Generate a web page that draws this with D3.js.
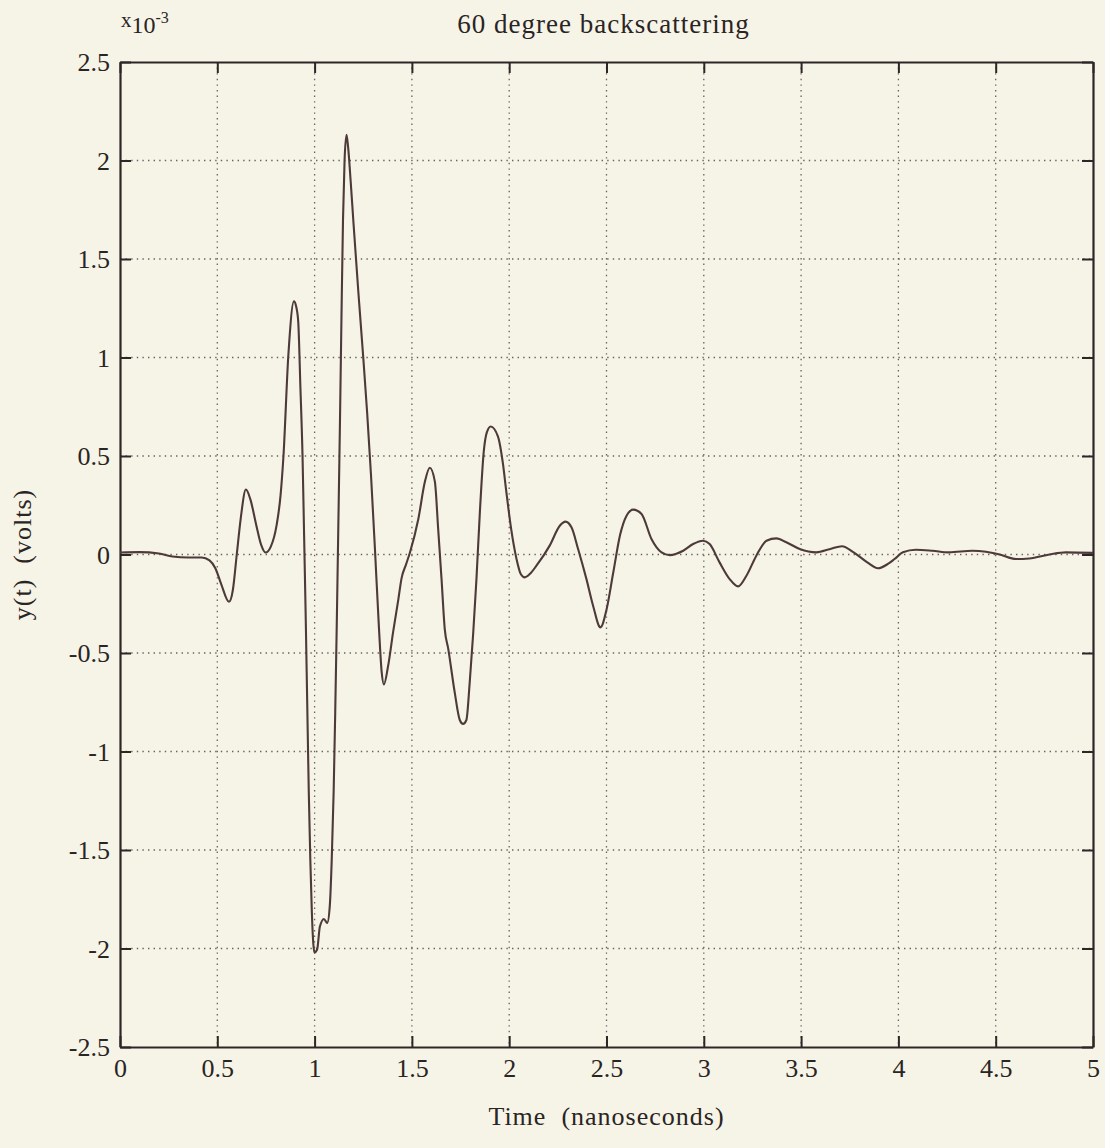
<!DOCTYPE html>
<html>
<head>
<meta charset="utf-8">
<script src="https://cdn.jsdelivr.net/npm/d3@7"></script>
<style>
  html, body { margin: 0; padding: 0; background: #f6f4e7; }
  svg { display: block; }
  text { font-family: "Liberation Serif", "DejaVu Serif", serif; fill: #2a2424; white-space: pre; }
</style>
</head>
<body>
<div id="chart"></div>
<script>
// ---- data (time in ns, amplitude in units of 1e-3 volts) ----
const timeNs = [
  0.00, 0.10, 0.20, 0.27, 0.35, 0.42, 0.46, 0.49, 0.52, 0.56, 0.58, 0.60, 0.62, 0.647, 0.67, 0.70,
  0.725, 0.748, 0.775, 0.805, 0.825, 0.84, 0.865, 0.894, 0.905, 0.916, 0.927, 0.938, 0.946, 0.954,
  0.962, 0.970, 0.978, 0.986, 0.993, 0.999, 1.013, 1.027, 1.048, 1.065, 1.078, 1.088, 1.098, 1.106,
  1.114, 1.122, 1.130, 1.138, 1.146, 1.154, 1.164, 1.172, 1.185, 1.20, 1.225, 1.25, 1.27, 1.29,
  1.31, 1.33, 1.345, 1.356, 1.377, 1.404, 1.43, 1.447, 1.47, 1.49, 1.533, 1.567, 1.592, 1.618,
  1.635, 1.652, 1.669, 1.687, 1.72, 1.746, 1.763, 1.78, 1.797, 1.815, 1.832, 1.849, 1.869, 1.885,
  1.905, 1.942, 1.968, 1.985, 2.01, 2.037, 2.06, 2.08, 2.11, 2.14, 2.208, 2.26, 2.289, 2.32,
  2.354, 2.397, 2.431, 2.469, 2.50, 2.535, 2.57, 2.603, 2.637, 2.68, 2.731, 2.783, 2.825, 2.894,
  2.945, 2.996, 3.03, 3.081, 3.133, 3.176, 3.219, 3.27, 3.322, 3.373, 3.424, 3.493, 3.578, 3.65,
  3.71, 3.77, 3.84, 3.895, 3.946, 3.98, 4.023, 4.09, 4.175, 4.26, 4.38, 4.45, 4.52, 4.605,
  4.673, 4.776, 4.86, 5.00
];
const voltsE3 = [
  0.010, 0.012, 0.005, -0.010, -0.015, -0.015, -0.030, -0.070, -0.150, -0.240, -0.180, 0.000, 0.180, 0.330, 0.280, 0.150,
  0.050, 0.010, 0.040, 0.150, 0.300, 0.500, 1.010, 1.285, 1.260, 1.180, 0.850, 0.500, 0.100, -0.300,
  -0.750, -1.200, -1.550, -1.820, -1.970, -2.020, -2.005, -1.890, -1.850, -1.870, -1.785, -1.550, -1.200, -0.800,
  -0.350, 0.150, 0.650, 1.200, 1.700, 2.000, 2.130, 2.070, 1.900, 1.680, 1.330, 1.000, 0.720, 0.400,
  0.030, -0.360, -0.600, -0.660, -0.570, -0.390, -0.230, -0.120, -0.050, 0.010, 0.180, 0.370, 0.440, 0.370,
  0.130, -0.120, -0.380, -0.480, -0.700, -0.840, -0.860, -0.840, -0.650, -0.400, -0.120, 0.210, 0.520, 0.620,
  0.650, 0.600, 0.460, 0.320, 0.130, -0.020, -0.100, -0.116, -0.095, -0.057, 0.045, 0.146, 0.167, 0.138,
  0.028, -0.125, -0.260, -0.370, -0.280, -0.090, 0.100, 0.197, 0.228, 0.206, 0.079, 0.011, -0.003, 0.019,
  0.053, 0.070, 0.053, -0.040, -0.125, -0.162, -0.108, -0.006, 0.070, 0.082, 0.062, 0.028, 0.011, 0.028,
  0.042, 0.011, -0.040, -0.070, -0.048, -0.023, 0.011, 0.024, 0.019, 0.011, 0.019, 0.014, 0.000, -0.023,
  -0.020, 0.000, 0.011, 0.008
];
const xTicks = [0, 0.5, 1, 1.5, 2, 2.5, 3, 3.5, 4, 4.5, 5];
const xTickLabels = ["0", "0.5", "1", "1.5", "2", "2.5", "3", "3.5", "4", "4.5", "5"];
const yTicks = [2.5, 2, 1.5, 1, 0.5, 0, -0.5, -1, -1.5, -2, -2.5];
const yTickLabels = ["2.5", "2", "1.5", "1", "0.5", "0", "-0.5", "-1", "-1.5", "-2", "-2.5"];
const titleText = "60 degree backscattering";
const xLabelText = "Time  (nanoseconds)";
const yLabelText = "y(t)  (volts)";

// ---- layout ----
const W = 1105, H = 1148;
const mLeft = 120, mRight = 1093, mTop = 62, mBottom = 1047;

const svg = d3.select("#chart").append("svg")
  .attr("width", W).attr("height", H);

svg.append("rect").attr("width", W).attr("height", H).attr("fill", "#f6f4e7");

const x = d3.scaleLinear().domain([0, 5]).range([mLeft, mRight]);
const y = d3.scaleLinear().domain([-2.5, 2.5]).range([mBottom, mTop]);

const inkGrid = "#6a6060";
const inkAxis = "#2e2626";

// grid (dotted)
const grid = svg.append("g");
grid.selectAll("line.vx").data(xTicks.slice(1, -1)).enter().append("line")
  .attr("x1", d => x(d)).attr("x2", d => x(d))
  .attr("y1", mTop).attr("y2", mBottom)
  .attr("stroke", inkGrid).attr("stroke-width", 1.3)
  .attr("stroke-dasharray", "1.4,4.2");
grid.selectAll("line.hy").data(yTicks.slice(1, -1)).enter().append("line")
  .attr("x1", mLeft).attr("x2", mRight)
  .attr("y1", d => y(d)).attr("y2", d => y(d))
  .attr("stroke", inkGrid).attr("stroke-width", 1.3)
  .attr("stroke-dasharray", "1.4,4.2");

// axes with inward ticks (via d3.axis)
const tickLen = 11;
const fmtX = d => xTickLabels[xTicks.indexOf(d)];
const fmtY = d => yTickLabels[yTicks.indexOf(d)];

const axB = svg.append("g").attr("transform", `translate(0,${mBottom})`)
  .call(d3.axisBottom(x).tickValues(xTicks).tickFormat(fmtX).tickSizeInner(-tickLen).tickSizeOuter(0).tickPadding(11));
const axT = svg.append("g").attr("transform", `translate(0,${mTop})`)
  .call(d3.axisTop(x).tickValues(xTicks).tickFormat("").tickSizeInner(-tickLen).tickSizeOuter(0));
const axL = svg.append("g").attr("transform", `translate(${mLeft},0)`)
  .call(d3.axisLeft(y).tickValues(yTicks).tickFormat(fmtY).tickSizeInner(-tickLen).tickSizeOuter(0).tickPadding(10));
const axR = svg.append("g").attr("transform", `translate(${mRight},0)`)
  .call(d3.axisRight(y).tickValues(yTicks).tickFormat("").tickSizeInner(-tickLen).tickSizeOuter(0));

[axB, axT, axL, axR].forEach(g => {
  g.select(".domain").attr("stroke", inkAxis).attr("stroke-width", 2.2);
  g.selectAll(".tick line").attr("stroke", inkAxis).attr("stroke-width", 2);
  g.selectAll(".tick text")
    .style("font-family", '"Liberation Serif", serif')
    .style("font-size", "26px")
    .attr("fill", "#2a2424");
});
axB.selectAll(".tick text").attr("dy", "0.72em");
axL.selectAll(".tick text").attr("dy", "0.33em");

// curve
const pts = timeNs.map((t, i) => [t, voltsE3[i]]);
const line = d3.line().x(d => x(d[0])).y(d => y(d[1])).curve(d3.curveMonotoneX);
svg.append("path").datum(pts)
  .attr("d", line)
  .attr("fill", "none")
  .attr("stroke", "#4d3a3a")
  .attr("stroke-width", 2.1)
  .attr("stroke-linejoin", "round");

// title
svg.append("text")
  .attr("x", (mLeft + mRight) / 2 - 3).attr("y", 33)
  .attr("text-anchor", "middle")
  .style("font-size", "27px").style("letter-spacing", "1px")
  .text(titleText);

// exponent label
const ex = svg.append("text").attr("x", 121).attr("y", 33).style("font-size", "24px");
ex.append("tspan").attr("dy", -6).style("font-size", "21px").text("x");
ex.append("tspan").attr("dy", 6).text("10");
ex.append("tspan").attr("dy", -10).style("font-size", "16px").text("-3");

// axis labels
svg.append("text")
  .attr("x", (mLeft + mRight) / 2).attr("y", 1125)
  .attr("text-anchor", "middle")
  .style("font-size", "26px").style("letter-spacing", "1px")
  .text(xLabelText);

svg.append("text")
  .attr("transform", `translate(31,${(mTop + mBottom) / 2}) rotate(-90)`)
  .attr("text-anchor", "middle")
  .style("font-size", "26px").style("letter-spacing", "1px")
  .text(yLabelText);
</script>
</body>
</html>
